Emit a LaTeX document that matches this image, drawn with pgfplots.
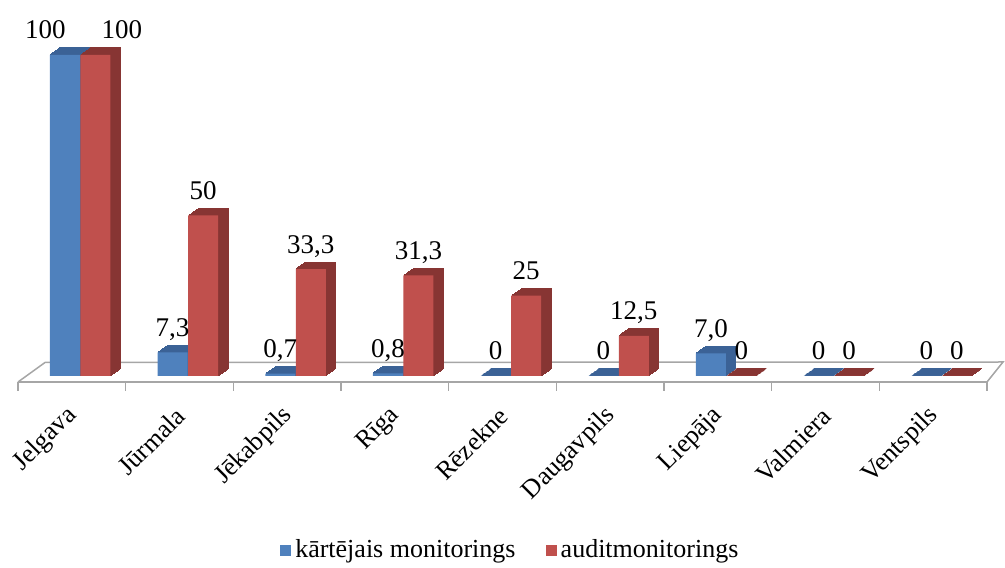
\documentclass[border=0pt]{standalone}
\usepackage{fontspec}
\setmainfont{Liberation Serif}
\usepackage{pgfplots}
\usepackage{pgfplotstable}
\pgfplotsset{compat=1.18}
\usetikzlibrary{calc}

\definecolor{cBlue}{HTML}{4F81BD}
\definecolor{cBlueDk}{HTML}{3B6296}
\definecolor{cRed}{HTML}{C0504D}
\definecolor{cRedDk}{HTML}{873533}
\definecolor{cFloor}{HTML}{A6A6A6}

% x = kategorija, b/r = vērtības, bl/rl = uzraksti, bdx/rdx = uzraksta nobīde (pt)
\pgfplotstableread{
x b    r     bl   rl   bdx    rdx
0 100  100   100  100  -9.75  13.25
1 7.3  50    7,3  50   0      0
2 0.7  33.3  0,7  33,3 0      0
3 0.8  31.3  0,8  31,3 0      0
4 0    25    0    25   0      0
5 0    12.5  0    12,5 0      0
6 7.0  0     7,0  0    0      0
7 0    0     0    0    0      0
8 0    0     0    0    0      0
}\data

\begin{document}
\begin{tikzpicture}
\begin{axis}[
    at={(9pt,92.5pt)}, anchor=south west,
    scale only axis,
    width=484.5pt, height=163.5pt,
    xmin=-0.5, xmax=8.5,
    ymin=-1.9, ymax=100,
    enlargelimits=false,
    clip=false,
    set layers,
    ybar, bar width=15pt,
    axis y line=none,
    axis x line*=bottom,
    axis line style={draw=cFloor, line width=0.75pt},
    tick align=outside,
    xtick={0,...,8},
    xticklabels={Jelgava, Jūrmala, Jēkabpils, Rīga, Rēzekne, Daugavpils, Liepāja, Valmiera, Ventspils},
    major tick length=0pt,
    minor xtick={-0.5,0.5,...,8.5},
    minor tick length=4.5pt,
    minor tick style={draw=cFloor, line width=0.75pt},
    xticklabel style={xshift=3pt, yshift=-12.5pt, rotate=45, anchor=east, font=\fontsize{13}{15}\selectfont},
    legend style={draw=none, fill=none, legend columns=2,
        font=\fontsize{13}{15}\selectfont,
        at={(0.509,0)}, anchor=center, yshift=-84pt,
        /tikz/every even column/.append style={column sep=13pt}},
    every node near coord/.append style={font=\fontsize{13.5}{15}\selectfont, anchor=base, yshift=8pt, inner sep=0pt},
]

% grīda
\draw[cFloor, line width=0.75pt] (axis cs:-0.5,-1.9) -- ++(13.5pt,9.75pt)
    -- ($(axis cs:8.5,-1.9)+(8pt,10pt)$) -- (axis cs:8.5,-1.9);

% zilie stabiņi: dziļums
\pgfplotsinvokeforeach{1,...,10}{
  \addplot[forget plot, fill=cBlueDk, draw=cBlueDk, line width=0.5pt,
      bar shift=-3.45pt, xshift=#1*0.5pt, yshift=#1*0.35pt]
      table[x=x, y=b]{\data};
}
\addplot[fill=cBlue, draw=none, bar shift=-3.45pt,
    nodes near coords, point meta=explicit symbolic,
    visualization depends on={\thisrow{bdx} \as \ldx},
    every node near coord/.append style={xshift=\ldx pt},
    legend image code/.code={\fill[cBlue] (0pt,-3pt) rectangle (5.6pt,2.6pt);}]
    table[x=x, y=b, meta=bl]{\data};
\addlegendentry{kārtējais monitorings}

% sarkanie stabiņi: dziļums
\pgfplotsinvokeforeach{1,...,10}{
  \addplot[forget plot, fill=cRedDk, draw=cRedDk, line width=0.5pt,
      bar shift=11.8pt, xshift=#1*0.5pt, yshift=#1*0.35pt]
      table[x=x, y=r]{\data};
}
\addplot[fill=cRed, draw=none, bar shift=11.8pt,
    nodes near coords, point meta=explicit symbolic,
    visualization depends on={\thisrow{rdx} \as \ldx},
    every node near coord/.append style={xshift=\ldx pt},
    legend image code/.code={\fill[cRed] (0pt,-3pt) rectangle (5.6pt,2.6pt);}]
    table[x=x, y=r, meta=rl]{\data};
\addlegendentry{auditmonitorings}

\end{axis}
\pgfresetboundingbox
\path (0,0) rectangle (502.5pt,283.5pt);
\end{tikzpicture}
\end{document}
